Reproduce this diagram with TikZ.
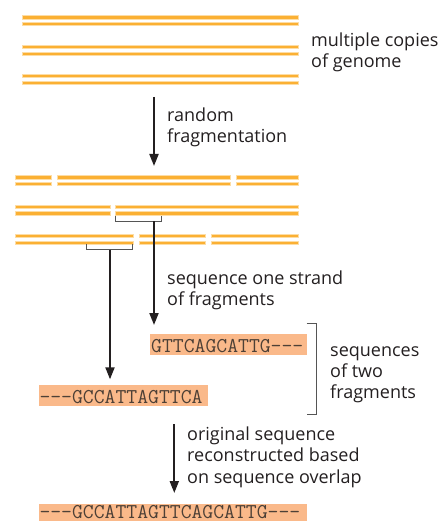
\documentclass[tikz,border=0pt]{standalone}
\usepackage{fontspec}
\setmainfont{Open Sans}
\usetikzlibrary{arrows.meta}
\definecolor{dna}{HTML}{FBB033}
\definecolor{dnapale}{HTML}{FDDDA5}
\definecolor{seqbg}{HTML}{FAB98A}
\definecolor{seqtxt}{HTML}{4D4036}
\definecolor{ink}{HTML}{231F20}
\definecolor{brk}{HTML}{555555}
\tikzset{
  bar/.style={draw=dnapale, line width=0.6pt, fill=dna},
  lbl/.style={anchor=north west, inner sep=0pt, align=left, text=ink,
    font=\fontsize{18}{21.3}\selectfont},
  seqbox/.style={fill=seqbg, draw=none, anchor=north west, inner sep=0pt,
    text height=18.2pt, text depth=2.8pt, text=seqtxt,
    font=\fontsize{21.1}{24}\ttfamily},
  bigarrow/.style={draw=ink, line width=2pt, -{Triangle[length=12pt,width=9pt]}},
  bracketline/.style={draw=brk, line width=1pt},
}
\newcommand{\strandpair}[3]{% y of first bar center, x1, x2
  \path[bar] (#2,#1-1.7) rectangle (#3,#1+1.7);
  \path[bar] (#2,#1+5.0) rectangle (#3,#1+8.4);
}
\begin{document}
\begin{tikzpicture}[x=1pt,y=-1pt]
\useasboundingbox (0,0) rectangle (441,521);
% genome copies
\strandpair{17.3}{22.7}{298}
\strandpair{47}{22.7}{298}
\strandpair{76}{22.7}{298}
\node[lbl] (copies) at (311,31) {\strut multiple copies\\of genome};
% fragmentation arrow
\coordinate (a1s) at (154,97);
\coordinate (a1e) at (154,166);
\draw[bigarrow] (a1s) -- (a1e);
\node[lbl] (frag) at (167,106) {\strut random\\fragmentation};
% fragments
\strandpair{177.3}{15}{51.7}
\strandpair{177.3}{57.3}{230.7}
\strandpair{177.3}{236}{298.3}
\strandpair{206.7}{15}{110.7}
\strandpair{206.7}{115.7}{298.3}
\strandpair{236}{15}{133.3}
\strandpair{236}{139}{205.7}
\strandpair{236}{211}{298.3}
% brackets under fragments
\draw[bracketline] (115.7,215.5) -- (115.7,221) -- (161.3,221) -- (161.3,215.5);
\draw[bracketline] (86.7,244) -- (86.7,249.5) -- (132.7,249.5) -- (132.7,244);
% sequence boxes
\node[seqbox, minimum width=156.7pt, text width=156.7pt] (s1) at (150,334) {\hspace{1pt}GTTCAGCATTG---};
\node[seqbox, minimum width=169.7pt, text width=169.7pt] (s2) at (38.3,385) {\hspace{1pt}---GCCATTAGTTCA};
\node[seqbox, minimum width=268.7pt, text width=268.7pt, text height=14.6pt, text depth=2.4pt] (s3) at (38.3,504) {\hspace{1pt}---GCCATTAGTTCAGCATTG---};
% arrows to sequences
\coordinate (b1) at (154,221);
\coordinate (b2) at (110,249.5);
\coordinate (b1e) at (154,325);
\coordinate (b2e) at (110,379.3);
\draw[bigarrow] (b1) -- (b1e);
\draw[bigarrow] (b2) -- (b2e);
\node[lbl] (seqlbl) at (167,269) {\strut sequence one strand\\of fragments};
% right bracket
\coordinate (rb1) at (306.7,323.3);
\coordinate (rb2) at (306.7,414.3);
\draw[bracketline] (rb1) -- (316.7,323.3) -- (316.7,414.3) -- (rb2);
\node[lbl] (two) at (330,341) {\strut sequences\\of two\\fragments};
% reconstruction arrow
\coordinate (c1) at (174.3,424);
\coordinate (c2) at (174.3,493);
\draw[bigarrow] (c1) -- (c2);
\node[lbl] (recon) at (187,425.3) {\strut original sequence\\reconstructed based\\on sequence overlap};
\end{tikzpicture}
\end{document}
